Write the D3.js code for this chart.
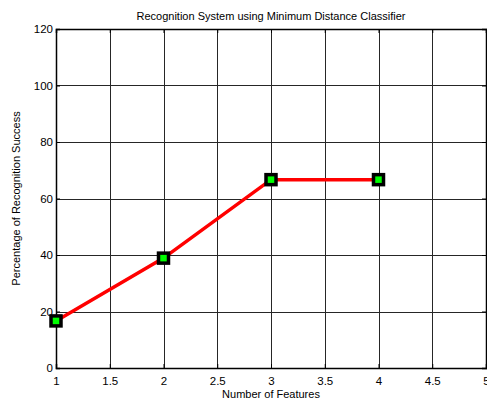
<!DOCTYPE html>
<html>
<head>
<meta charset="utf-8">
<script src="https://cdn.jsdelivr.net/npm/d3@7"></script>
<style>
  body { margin: 0; background: #fff; }
  svg text { font-family: "Liberation Sans", Arial, sans-serif; fill: #000; }
</style>
</head>
<body>
<svg id="chart"></svg>
<script>
var features = [1, 2, 3, 4]
  , success = [16.67, 38.89, 66.67, 66.67]
  , xTicks = [1, 1.5, 2, 2.5, 3, 3.5, 4, 4.5, 5]
  , yTicks = [0, 20, 40, 60, 80, 100, 120]

var w = 487
  , h = 402
  , m = {top: 29, right: 1, bottom: 34, left: 56}
  , iw = w - m.left - m.right
  , ih = h - m.top - m.bottom
  , svg = d3.select('#chart').attr('width', w).attr('height', h)
  , g = svg.append('g').attr('transform', 'translate(' + [m.left, m.top] + ')')

var x = d3.scaleLinear().domain([1, 5]).range([0, iw])
  , y = d3.scaleLinear().domain([0, 120]).range([ih, 0])

// grid
g.append('g').selectAll('line').data(xTicks.slice(1, -1))
  .enter().append('line')
  .attr('x1', function(d){ return Math.round(x(d)) + 0.5 })
  .attr('x2', function(d){ return Math.round(x(d)) + 0.5 })
  .attr('y1', 0).attr('y2', ih)
  .attr('stroke', '#262626').attr('stroke-width', 1)

g.append('g').selectAll('line').data(yTicks.slice(1, -1))
  .enter().append('line')
  .attr('y1', function(d){ return Math.round(y(d)) + 0.5 })
  .attr('y2', function(d){ return Math.round(y(d)) + 0.5 })
  .attr('x1', 0).attr('x2', iw)
  .attr('stroke', '#262626').attr('stroke-width', 1)

// axes
var xAxis = g.append('g').attr('transform', 'translate(0,' + ih + ')')
  .call(d3.axisBottom(x).tickValues(xTicks).tickSize(-4).tickPadding(9)
    .tickFormat(d3.format('')))
var yAxis = g.append('g')
  .call(d3.axisLeft(y).tickValues(yTicks).tickSize(-4).tickPadding(3))
g.append('g')
  .call(d3.axisTop(x).tickValues(xTicks).tickSize(-4).tickFormat(''))
g.append('g').attr('transform', 'translate(' + iw + ',0)')
  .call(d3.axisRight(y).tickValues(yTicks).tickSize(-4).tickFormat(''))

g.selectAll('.domain').attr('stroke', '#000').attr('stroke-width', 1.5)
g.selectAll('.tick line').attr('stroke', '#000')
g.selectAll('.tick text').attr('font-size', 11.5)
  .style('font-family', '"Liberation Sans", Arial, sans-serif')

// line and markers
var line = d3.line()
  .x(function(d, i){ return x(features[i]) })
  .y(function(d){ return y(d) })

g.append('path').datum(success)
  .attr('d', line)
  .attr('fill', 'none')
  .attr('stroke', '#ff0000')
  .attr('stroke-width', 3.5)

g.selectAll('rect.mk').data(success)
  .enter().append('rect').attr('class', 'mk')
  .attr('x', function(d, i){ return x(features[i]) - 5 })
  .attr('y', function(d){ return y(d) - 5 })
  .attr('width', 10).attr('height', 10)
  .attr('fill', '#00ff00')
  .attr('stroke', '#000')
  .attr('stroke-width', 3.5)

// labels
svg.append('text')
  .attr('x', m.left + iw / 2).attr('y', 20)
  .attr('text-anchor', 'middle').attr('font-size', 11)
  .text('Recognition System using Minimum Distance Classifier')

svg.append('text')
  .attr('x', m.left + iw / 2).attr('y', 398)
  .attr('text-anchor', 'middle').attr('font-size', 11)
  .text('Number of Features')

svg.append('text')
  .attr('transform', 'translate(20,' + (m.top + ih / 2) + ') rotate(-90)')
  .attr('text-anchor', 'middle').attr('font-size', 11)
  .text('Percentage of Recognition Success')
</script>
</body>
</html>
